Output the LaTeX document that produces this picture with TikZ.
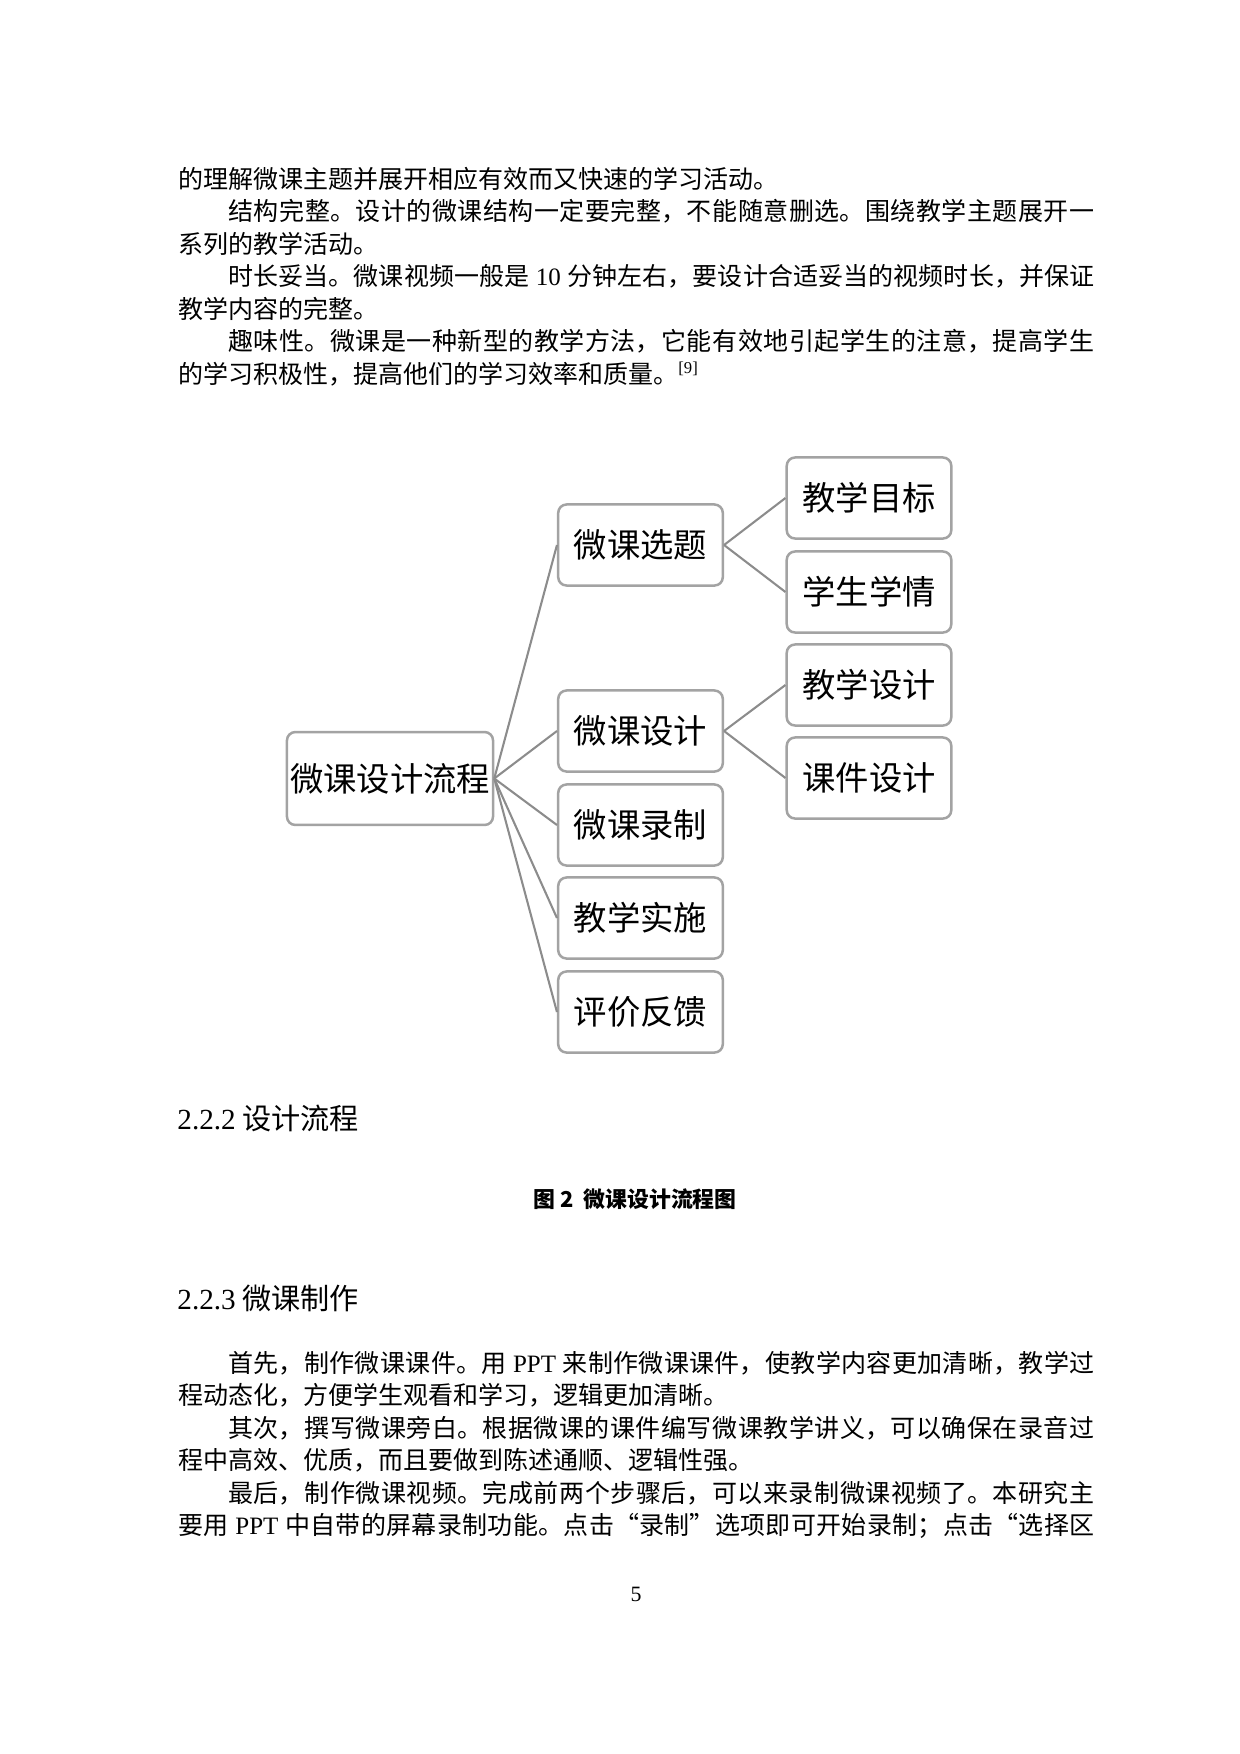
\documentclass[tikz,border=0pt]{standalone}
\usepackage{fontspec}
\setmainfont{Noto Sans CJK SC}
\newfontfamily\lat{Liberation Serif}
\XeTeXlinebreaklocale "zh"
\XeTeXlinebreakskip=0pt plus 1pt minus 0.3pt
\definecolor{boxgray}{RGB}{163,163,163}
\definecolor{linegray}{RGB}{140,140,140}
\tikzset{
  box/.style={draw=boxgray, line width=1.2pt, rounded corners=4pt, fill=white, inner sep=0pt,
    minimum width=79pt, minimum height=38.9pt, font=\fontsize{16}{16}\selectfont},
  rootbox/.style={box, minimum width=98.9pt, minimum height=44.6pt},
  conn/.style={draw=linegray, line width=1pt},
  bodyline/.style={anchor=base west, inner sep=0pt, font=\fontsize{12}{12}\selectfont},
  headline/.style={anchor=base west, inner sep=0pt, font=\fontsize{14}{14}\selectfont},
}
\newcommand{\fullln}[1]{\parbox[b]{439.7pt}{\parindent=0pt\parfillskip=0pt\tolerance=9999 #1}}
\newcommand{\ls}{\hspace{3pt plus 1pt}}
\begin{document}
\begin{tikzpicture}[x=0.48pt,y=-0.48pt]
\useasboundingbox (0,0) rectangle (1240,1754);
% body text top
\node[bodyline] (t1) at (178,188) {的理解微课主题并展开相应有效而又快速的学习活动。};
\node[bodyline] (t2) at (178,220.5) {\fullln{\hspace*{2em}结构完整。设计的微课结构一定要完整，不能随意删选。围绕教学主题展开一}};
\node[bodyline] (t3) at (178,253) {系列的教学活动。};
\node[bodyline] (t4) at (178,285.5) {\fullln{\hspace*{2em}时长妥当。微课视频一般是\ls{\lat 10}\ls 分钟左右，要设计合适妥当的视频时长，并保证}};
\node[bodyline] (t5) at (178,318) {教学内容的完整。};
\node[bodyline] (t6) at (178,350.5) {\fullln{\hspace*{2em}趣味性。微课是一种新型的教学方法，它能有效地引起学生的注意，提高学生}};
\node[bodyline] (t7) at (178,383) {的学习积极性，提高他们的学习效率和质量。{\lat\textsuperscript{[9]}}};
% diagram
\node[rootbox] (root) at (390,778.5) {微课设计流程};
\node[box] (m1) at (640.5,545) {微课选题};
\node[box] (m2) at (640.5,731) {微课设计};
\node[box] (m3) at (640.5,825) {微课录制};
\node[box] (m4) at (640.5,918) {教学实施};
\node[box] (m5) at (640.5,1012) {评价反馈};
\node[box] (r1) at (869,498) {教学目标};
\node[box] (r2) at (869,592) {学生学情};
\node[box] (r3) at (869,685) {教学设计};
\node[box] (r4) at (869,778) {课件设计};
\foreach \m in {m1,m2,m3,m4,m5} {\draw[conn] (root.east) -- (\m.west);}
\draw[conn] (m1.east) -- (r1.west);
\draw[conn] (m1.east) -- (r2.west);
\draw[conn] (m2.east) -- (r3.west);
\draw[conn] (m2.east) -- (r4.west);
% headings and caption
\node[headline] (h1) at (177,1129) {{\lat 2.2.2} 设计流程};
\node[inner sep=0pt, anchor=base, font=\fontsize{10.5}{10.5}\selectfont\bfseries] (cap) at (635,1207) {图 2\ \ 微课设计流程图};
\node[headline] (h2) at (177,1309) {{\lat 2.2.3} 微课制作};
% body text bottom
\node[bodyline] (b1) at (178,1372) {\fullln{\hspace*{2em}首先，制作微课课件。用\ls{\lat PPT}\ls 来制作微课课件，使教学内容更加清晰，教学过}};
\node[bodyline] (b2) at (178,1404.5) {程动态化，方便学生观看和学习，逻辑更加清晰。};
\node[bodyline] (b3) at (178,1437) {\fullln{\hspace*{2em}其次，撰写微课旁白。根据微课的课件编写微课教学讲义，可以确保在录音过}};
\node[bodyline] (b4) at (178,1469.5) {程中高效、优质，而且要做到陈述通顺、逻辑性强。};
\node[bodyline] (b5) at (178,1502) {\fullln{\hspace*{2em}最后，制作微课视频。完成前两个步骤后，可以来录制微课视频了。本研究主}};
\node[bodyline] (b6) at (178,1534.5) {\fullln{要用\ls{\lat PPT}\ls 中自带的屏幕录制功能。点击“录制”选项即可开始录制；点击“选择区}};
\node[inner sep=0pt, anchor=base, font=\lat\fontsize{10.5}{10.5}\selectfont] (pg) at (636,1601) {5};
\end{tikzpicture}
\end{document}
